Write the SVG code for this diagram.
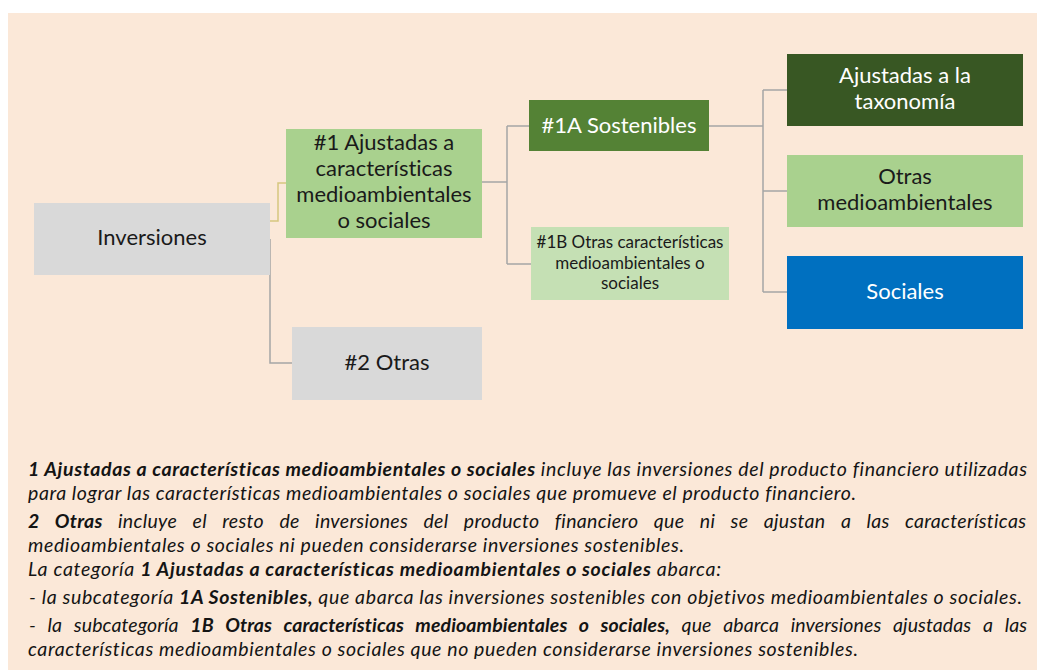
<svg xmlns="http://www.w3.org/2000/svg" width="1037" height="670" viewBox="0 0 1037 670">
<style>
.bx{font-family:Lato,"Liberation Sans",sans-serif;font-size:22px;text-anchor:middle;font-variant-ligatures:none}
.dk{fill:#1a1a1a}
.wh{fill:#ffffff}
.sm{font-size:17px}
.cn{fill:none;stroke:#a5a5a5;stroke-width:1.5}
.nt{font-family:Lato,"Liberation Sans",sans-serif;font-size:19.5px;font-style:italic;fill:#141414;font-variant-ligatures:none}
.b{font-weight:bold}
</style>
<rect x="0" y="0" width="1037" height="670" fill="#ffffff"/>
<rect x="8" y="13" width="1029" height="657" fill="#fbe8d8"/>
<g id="connectors">
<path d="M270,221 H278 V183 H286" fill="none" stroke="#d6c67f" stroke-width="1.5"/>
<path class="cn" d="M270,239 V363 H292"/>
<path class="cn" d="M482,182 H507 M507,126 V264 M507,126 H529 M507,264 H531"/>
<path class="cn" d="M709,126 H763 M763,90 V292 M763,90 H787 M763,191 H787 M763,292 H787"/>
</g>
<g id="inversiones">
<rect x="34" y="203" width="236" height="72" fill="#d9d9d9"/>
<text class="bx dk" x="152" y="245">Inversiones</text>
</g>
<g id="n1">
<rect x="286" y="129" width="196" height="109" fill="#a9d18e"/>
<text class="bx dk" x="384" y="150">#1 Ajustadas a</text>
<text class="bx dk" x="384" y="176">características</text>
<text class="bx dk" x="384" y="202">medioambientales</text>
<text class="bx dk" x="384" y="228">o sociales</text>
</g>
<g id="n2">
<rect x="292" y="327" width="190" height="73" fill="#d9d9d9"/>
<text class="bx dk" x="387" y="370">#2 Otras</text>
</g>
<g id="n1a">
<rect x="529" y="100" width="180" height="51" fill="#548235"/>
<text class="bx wh" x="619" y="133">#1A Sostenibles</text>
</g>
<g id="n1b">
<rect x="531" y="227" width="198" height="73" fill="#c5e0b4"/>
<text class="bx dk sm" x="630" y="248">#1B Otras características</text>
<text class="bx dk sm" x="630" y="269">medioambientales o</text>
<text class="bx dk sm" x="630" y="289">sociales</text>
</g>
<g id="taxonomia">
<rect x="787" y="54" width="236" height="72" fill="#385723"/>
<text class="bx wh" x="905" y="83">Ajustadas a la</text>
<text class="bx wh" x="905" y="109">taxonomía</text>
</g>
<g id="otras-medio">
<rect x="787" y="155" width="236" height="72" fill="#a9d18e"/>
<text class="bx dk" x="905" y="184">Otras</text>
<text class="bx dk" x="905" y="210">medioambientales</text>
</g>
<g id="sociales">
<rect x="787" y="256" width="236" height="73" fill="#0070c0"/>
<text class="bx wh" x="905" y="299">Sociales</text>
</g>
<g id="notes">
<text class="nt" x="28" y="476" textLength="999" lengthAdjust="spacing"><tspan class="b">1 Ajustadas a características medioambientales o sociales</tspan> incluye las inversiones del producto financiero utilizadas</text>
<text class="nt" x="28" y="500" textLength="828" lengthAdjust="spacing">para lograr las características medioambientales o sociales que promueve el producto financiero.</text>
<text class="nt" x="28" y="528" textLength="998" lengthAdjust="spacing" word-spacing="10.5"><tspan class="b">2 Otras</tspan> incluye el resto de inversiones del producto financiero que ni se ajustan a las características</text>
<text class="nt" x="28" y="552" textLength="656" lengthAdjust="spacing">medioambientales o sociales ni pueden considerarse inversiones sostenibles.</text>
<text class="nt" x="28" y="576" textLength="693" lengthAdjust="spacing">La categoría <tspan class="b">1 Ajustadas a características medioambientales o sociales</tspan> abarca:</text>
<text class="nt" x="29" y="604" textLength="993" lengthAdjust="spacing">- la subcategoría <tspan class="b">1A Sostenibles,</tspan> que abarca las inversiones sostenibles con objetivos medioambientales o sociales.</text>
<text class="nt" x="29" y="632" textLength="998" lengthAdjust="spacing" word-spacing="7">- la subcategoría <tspan class="b">1B Otras características medioambientales o sociales,</tspan> que abarca inversiones ajustadas a las</text>
<text class="nt" x="28" y="656" textLength="830" lengthAdjust="spacing">características medioambientales o sociales que no pueden considerarse inversiones sostenibles.</text>
</g>
</svg>
